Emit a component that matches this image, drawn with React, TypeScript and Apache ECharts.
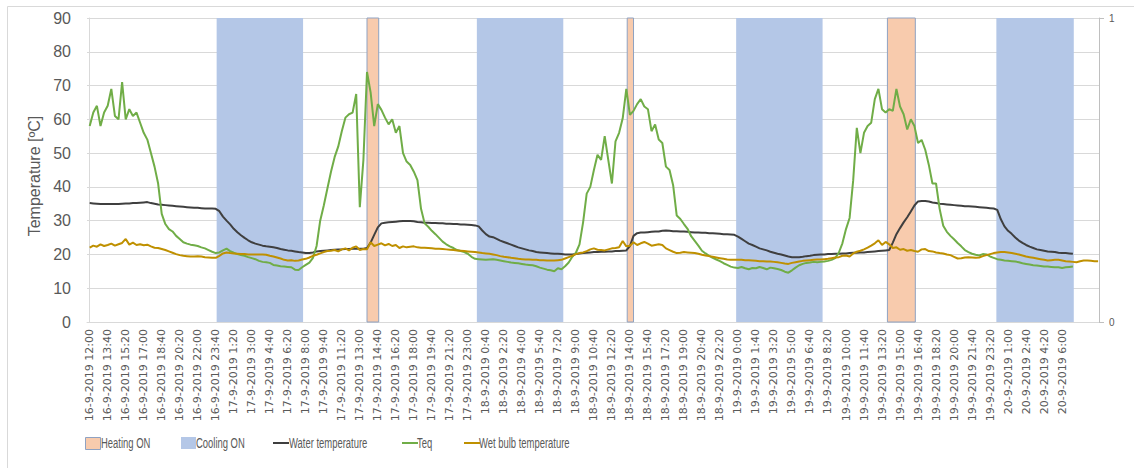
import React, { useEffect, useRef } from "react";
import * as echarts from "echarts";

// Samples every 20 minutes, starting 16-9-2019 12:00 (t = 0 min)
const STEP_MIN = 20;

const waterTemperature = [
  35.2, 35.1, 35.0, 34.9, 34.9, 34.9, 34.9, 34.9, 34.9, 35.0,
  35.1, 35.1, 35.2, 35.2, 35.3, 35.4, 35.5, 35.2, 35.0, 34.8,
  34.7, 34.6, 34.5, 34.4, 34.3, 34.2, 34.1, 34.0, 33.9, 33.8,
  33.8, 33.7, 33.6, 33.6, 33.6, 33.5, 32.8, 31.2, 30.0, 28.9,
  27.6, 26.6, 25.7, 24.9, 24.2, 23.6, 23.2, 22.9, 22.6, 22.4,
  22.3, 22.1, 21.9, 21.6, 21.4, 21.2, 21.1, 20.9, 20.7, 20.6,
  20.4, 20.4, 20.6, 20.9, 21.0, 21.1, 21.2, 21.3, 21.4, 21.5,
  21.5, 21.6, 21.6, 21.7, 21.7, 21.7, 21.7, 21.9, 23.5, 25.8,
  28.0, 29.2, 29.4, 29.5, 29.6, 29.7, 29.8, 29.9, 29.9, 29.9,
  29.8, 29.6, 29.5, 29.4, 29.4, 29.3, 29.3, 29.2, 29.2, 29.1,
  29.1, 29.0, 29.0, 28.9, 28.9, 28.8, 28.7, 28.6, 28.3, 27.1,
  26.0, 25.3, 25.1, 24.6, 24.1, 23.7, 23.3, 22.9, 22.5, 22.1,
  21.8, 21.5, 21.2, 21.0, 20.7, 20.6, 20.5, 20.4, 20.3, 20.2,
  20.2, 20.1, 20.0, 20.0, 20.0, 20.1, 20.3, 20.4, 20.5, 20.6,
  20.7, 20.7, 20.8, 20.8, 20.9, 20.9, 21.0, 21.0, 21.1, 21.2,
  22.5, 25.5, 26.3, 26.5, 26.5, 26.6, 26.7, 26.8, 26.8, 27.0,
  27.1, 27.0, 26.9, 26.9, 26.8, 26.8, 26.7, 26.6, 26.5, 26.5,
  26.4, 26.4, 26.3, 26.3, 26.2, 26.1, 26.0, 26.0, 25.9, 25.8,
  25.3, 24.6, 23.9, 23.2, 22.8, 22.3, 21.8, 21.5, 21.2, 20.8,
  20.5, 20.2, 20.0, 19.7, 19.4, 19.2, 19.2, 19.2, 19.3, 19.5,
  19.6, 19.8, 19.9, 20.0, 20.0, 20.1, 20.1, 20.2, 20.2, 20.3,
  20.3, 20.4, 20.5, 20.5, 20.6, 20.6, 20.7, 20.8, 20.9, 21.0,
  21.1, 21.2, 21.3, 23.5, 26.0, 27.8, 29.5, 31.0, 32.7, 34.5,
  35.7, 35.8, 35.8, 35.7, 35.4, 35.2, 35.0, 34.9, 34.8, 34.7,
  34.6, 34.5, 34.4, 34.3, 34.3, 34.2, 34.1, 34.0, 33.9, 33.8,
  33.7, 33.6, 33.2, 30.4, 28.3, 27.0, 26.1, 25.0, 24.1, 23.4,
  22.8, 22.3, 21.9, 21.5, 21.3, 21.1, 20.9, 20.8, 20.7, 20.5,
  20.4, 20.4, 20.3, 20.2,
];

const teq = [
  58, 62, 64, 58, 62, 64, 69, 61, 60, 71,
  60, 63, 61, 62, 59, 56, 54, 50, 46, 41,
  32, 29, 27.5, 26.8, 25.5, 24.6, 23.6, 23.2, 22.9, 22.7,
  22.5, 22.1, 21.8, 21.3, 20.8, 20.4, 20.6, 21.2, 21.7, 21.0,
  20.5, 20.1, 19.8, 19.6, 19.2, 18.9, 18.6, 18.1, 17.8, 17.7,
  17.5, 16.9, 16.7, 16.5, 16.4, 16.3, 16.2, 15.5, 15.4, 16.2,
  16.9, 17.6, 19.0, 22.5, 30.0, 34.5, 39.5, 44.5, 48.8, 51.9,
  56.5, 60.5, 61.5, 62.0, 67.5, 34.0, 48.0, 74.0, 68.0, 58.0,
  64.5, 62.8, 60.5, 58.5, 60.0, 56.0, 58.0, 50.0, 47.5, 46.5,
  44.5, 42.0, 33.5, 29.2, 28.2, 27.0, 26.0, 24.9, 23.8, 23.0,
  22.4, 21.9, 21.3, 21.0, 20.7, 20.2, 19.3, 18.7, 18.6, 18.5,
  18.4, 18.5, 18.6, 18.4, 18.2, 18.0, 17.8, 17.6, 17.5, 17.4,
  17.2, 17.0, 16.9, 16.8, 16.5, 16.1, 15.8, 15.5, 15.3, 15.0,
  15.9, 15.6, 16.5, 17.6, 19.3, 20.5, 23.0, 29.5, 38.0, 40.0,
  45.0, 49.5, 48.0, 55.0, 47.9, 41.0, 53.5, 56.0, 60.3, 69.0,
  61.3, 62.5, 64.5, 66.0, 63.8, 63.0, 56.5, 58.5, 54.0, 53.0,
  46.0, 45.0, 40.5, 31.5, 30.5, 29.0, 27.6, 25.4, 24.0, 22.6,
  21.1, 20.3, 19.6, 19.0, 18.5, 18.0, 17.4, 16.9, 16.4, 16.1,
  16.0, 16.3, 15.9, 15.6, 16.0, 15.9, 16.3, 16.0, 15.6, 16.1,
  15.9, 15.7, 15.4, 14.9, 14.6, 15.3, 16.1, 16.8, 17.2, 17.5,
  17.6, 17.8, 17.7, 17.8, 17.9, 18.1, 18.4, 18.9, 20.5, 23.3,
  27.5, 30.8, 42.0, 57.5, 50.0, 56.0, 58.0, 59.0, 66.0, 69.0,
  63.0, 62.0, 63.0, 62.5, 69.0, 63.8, 61.5, 57.0, 60.0, 58.0,
  53.0, 53.9, 51.0, 46.5, 41.0, 41.0, 33.5, 28.5, 26.7, 25.5,
  24.5, 23.4, 22.4, 21.3, 20.7, 20.2, 19.9, 19.7, 20.1, 20.0,
  19.4, 19.0, 18.6, 18.4, 18.2, 18.1, 18.0, 17.9, 17.7, 17.4,
  17.2, 17.0, 16.8, 16.7, 16.6, 16.4, 16.4, 16.3, 16.2, 16.2,
  16.0, 16.2, 16.3, 16.4,
];

const wetBulbTemperature = [
  22.0, 22.6, 22.3, 23.0, 22.5, 22.8, 23.2, 22.6, 23.0, 23.4,
  24.6, 22.9, 23.5, 22.8, 23.0, 22.7, 22.9, 22.4, 22.0, 21.9,
  21.6, 21.3, 20.9, 20.5, 20.1, 19.8, 19.6, 19.5, 19.4, 19.4,
  19.5, 19.4, 19.2, 19.1, 19.0, 19.0, 19.6, 20.3, 20.6, 20.4,
  20.3, 20.2, 20.1, 20.1, 20.0, 20.0, 20.0, 20.0, 20.0, 19.9,
  19.6, 19.4, 19.1, 18.8, 18.4, 18.2, 18.3, 18.1, 18.2, 18.5,
  18.7, 19.1, 19.6, 19.9, 20.3, 20.7, 21.0, 21.1, 21.3, 20.9,
  21.5, 21.8, 21.2, 22.0, 22.4, 21.3, 21.6, 21.5, 23.6, 22.5,
  22.9, 23.3, 22.7, 23.1, 22.5, 22.8, 21.9, 22.4, 22.1, 22.3,
  22.4, 22.1, 22.0, 22.0, 21.9, 21.8, 21.7, 21.7, 21.6, 21.5,
  21.4, 21.3, 21.2, 21.1, 21.0, 20.9, 20.8, 20.7, 20.6, 20.4,
  20.3, 20.2, 20.0, 19.8, 19.5, 19.3, 19.2, 19.0, 18.9, 18.7,
  18.6, 18.5, 18.5, 18.4, 18.4, 18.3, 18.3, 18.2, 18.2, 18.2,
  18.3, 18.4, 18.8, 19.2, 19.6, 20.1, 20.4, 20.6, 21.0, 21.5,
  21.8, 21.4, 21.3, 21.2, 21.5, 21.8, 21.9, 22.1, 24.0, 22.4,
  22.6, 23.6, 22.8, 23.3, 23.7, 23.2, 22.6, 22.8, 23.0, 22.8,
  21.8, 21.3, 20.8, 20.4, 20.5, 20.7, 20.6, 20.5, 20.4, 20.2,
  19.9, 19.7, 19.5, 19.3, 19.1, 18.9, 18.7, 18.5, 18.4, 18.4,
  18.4, 18.4, 18.3, 18.3, 18.2, 18.1, 18.0, 18.0, 17.9, 17.9,
  17.8, 17.7, 17.5, 17.3, 17.2, 17.5, 17.7, 17.9, 18.1, 18.2,
  18.3, 18.4, 18.5, 18.5, 18.6, 18.7, 18.9, 19.1, 19.2, 19.6,
  19.7, 19.4, 20.3, 20.8, 21.1, 21.5, 22.0, 22.6, 23.3, 24.2,
  22.8, 23.7, 23.0, 21.9, 22.1, 21.4, 21.6, 21.1, 21.3, 21.0,
  20.8, 21.5, 21.6, 21.0, 20.9, 20.6, 20.4, 20.3, 20.0, 19.8,
  19.3, 18.8, 18.9, 19.1, 19.2, 19.1, 19.0, 19.1, 19.5, 19.8,
  20.1, 20.4, 20.6, 20.7, 20.7, 20.6, 20.4, 20.2, 20.0, 19.7,
  19.4, 19.2, 19.0, 18.8, 18.6, 18.4, 18.2, 18.3, 18.4, 18.4,
  18.2, 18.0, 17.9, 17.8, 17.7, 18.0, 18.2, 18.2, 18.1, 18.0,
  18.0,
];

// Heating / cooling periods, minutes after 16-9-2019 12:00
const heatingStart = [1540, 2985, 4430];
const heatingEnd = [1605, 3020, 4585];
const coolingStart = [705, 2150, 3590, 5035];
const coolingEnd = [1185, 2630, 4070, 5465];

// Category tick labels, one every 100 minutes
const tickLabels = [
  "16-9-2019 12:00", "16-9-2019 13:40", "16-9-2019 15:20", "16-9-2019 17:00",
  "16-9-2019 18:40", "16-9-2019 20:20", "16-9-2019 22:00", "16-9-2019 23:40",
  "17-9-2019 1:20", "17-9-2019 3:00", "17-9-2019 4:40", "17-9-2019 6:20",
  "17-9-2019 8:00", "17-9-2019 9:40", "17-9-2019 11:20", "17-9-2019 13:00",
  "17-9-2019 14:40", "17-9-2019 16:20", "17-9-2019 18:00", "17-9-2019 19:40",
  "17-9-2019 21:20", "17-9-2019 23:00", "18-9-2019 0:40", "18-9-2019 2:20",
  "18-9-2019 4:00", "18-9-2019 5:40", "18-9-2019 7:20", "18-9-2019 9:00",
  "18-9-2019 10:40", "18-9-2019 12:20", "18-9-2019 14:00", "18-9-2019 15:40",
  "18-9-2019 17:20", "18-9-2019 19:00", "18-9-2019 20:40", "18-9-2019 22:20",
  "19-9-2019 0:00", "19-9-2019 1:40", "19-9-2019 3:20", "19-9-2019 5:00",
  "19-9-2019 6:40", "19-9-2019 8:20", "19-9-2019 10:00", "19-9-2019 11:40",
  "19-9-2019 13:20", "19-9-2019 15:00", "19-9-2019 16:40", "19-9-2019 18:20",
  "19-9-2019 20:00", "19-9-2019 21:40", "19-9-2019 23:20", "20-9-2019 1:00",
  "20-9-2019 2:40", "20-9-2019 4:20", "20-9-2019 6:00",
];
const TICK_STEP = 100;

const HEAT_COLOR = "#F8CBAD";
const HEAT_BORDER = "#8FA2C2";
const COOL_COLOR = "#B4C7E7";
const WATER_COLOR = "#3F3F3F";
const TEQ_COLOR = "#70AD47";
const WET_COLOR = "#BF9000";
const TEXT_COLOR = "#595959";
const SANS = "'Liberation Sans', Arial, sans-serif";

// Legend layout: icon left edge, text left edge
const legendLayout = [
  { name: "Heating ON", icon: 85, text: 101 },
  { name: "Cooling ON", icon: 181, text: 196 },
  { name: "Water temperature", icon: 273, text: 289 },
  { name: "Teq", icon: 402, text: 417 },
  { name: "Wet bulb temperature", icon: 464, text: 479 },
];
const LEGEND_Y = 443;

function bandSeries(name: string, starts: number[], ends: number[], fill: string, stroke: string | null) {
  return {
    name,
    type: "custom",
    xAxisIndex: 0,
    yAxisIndex: 1,
    z: 1,
    itemStyle: { color: fill, borderColor: stroke || fill, borderWidth: stroke ? 1 : 0 },
    encode: { x: [0, 1], y: 2 },
    data: starts.map((s, i) => [s, ends[i], 1]),
    renderItem: (params: any, api: any) => {
      const p0 = api.coord([api.value(0), 1]);
      const p1 = api.coord([api.value(1), 0]);
      return {
        type: "rect",
        shape: { x: p0[0], y: p0[1], width: p1[0] - p0[0], height: p1[1] - p0[1] },
        style: stroke ? { fill, stroke, lineWidth: 1 } : { fill },
      };
    },
  };
}

function lineSeries(name: string, values: number[], color: string) {
  return {
    name,
    type: "line",
    yAxisIndex: 0,
    z: 3,
    symbol: "none",
    showSymbol: false,
    lineStyle: { color, width: 2 },
    itemStyle: { color },
    data: values.map((v, i) => [i * STEP_MIN, v]),
  };
}

const LINE_ICON = "path://M0,0 L16,0 L16,2 L0,2 Z";

function legendItem(name: string, left: number, icon: string, isLine: boolean, itemStyle?: any) {
  return {
    left,
    top: isLine ? LEGEND_Y - 1 : LEGEND_Y - 6,
    padding: 0,
    itemWidth: isLine ? 16 : 15,
    itemHeight: isLine ? 2 : 12,
    icon,
    data: [itemStyle ? { name, itemStyle } : { name }],
    formatter: () => "",
    textStyle: { fontSize: 1 },
    selectedMode: false,
  };
}

export default function App() {
  const ref = useRef<HTMLDivElement>(null);

  useEffect(() => {
    if (!ref.current) return;
    const chart = echarts.init(ref.current, null, { renderer: "svg" });
    const tickValues = tickLabels.map((_, i) => i * TICK_STEP);

    chart.setOption({
      animation: false,
      backgroundColor: "#ffffff",
      grid: { left: 87, right: 35, top: 18, bottom: 146, containLabel: false },
      graphic: [
        {
          type: "rect",
          x: 7.5,
          y: 6.5,
          shape: { x: 0, y: 0, width: 1200, height: 500 },
          style: { fill: "none", stroke: "#D9D9D9", lineWidth: 1 },
          silent: true,
        },
        ...legendLayout.map((l) => ({
          type: "text",
          x: l.text,
          y: LEGEND_Y,
          scaleX: 0.63,
          silent: true,
          style: {
            text: l.name,
            fill: TEXT_COLOR,
            font: `15px ${SANS}`,
            verticalAlign: "middle",
            align: "left",
          },
        })),
      ],
      legend: [
        legendItem("Heating ON", legendLayout[0].icon, "rect", false, { color: HEAT_COLOR, borderColor: HEAT_BORDER, borderWidth: 1 }),
        legendItem("Cooling ON", legendLayout[1].icon, "rect", false, { color: COOL_COLOR }),
        legendItem("Water temperature", legendLayout[2].icon, LINE_ICON, true),
        legendItem("Teq", legendLayout[3].icon, LINE_ICON, true),
        legendItem("Wet bulb temperature", legendLayout[4].icon, LINE_ICON, true),
      ],
      xAxis: {
        type: "value",
        min: -15,
        max: 5605,
        splitLine: { show: false },
        axisLine: { show: true, lineStyle: { color: "#D9D9D9", width: 1 } },
        axisTick: { show: false },
        axisLabel: {
          customValues: tickValues,
          rotate: 90,
          margin: 7,
          color: TEXT_COLOR,
          fontSize: 11,
          fontFamily: "'DejaVu Sans', sans-serif",
          formatter: (v: number) => tickLabels[Math.round(v / TICK_STEP)] ?? "",
        },
      },
      yAxis: [
        {
          type: "value",
          min: 0,
          max: 90,
          interval: 10,
          name: "Temperature [ºC]",
          nameLocation: "middle",
          nameGap: 45,
          nameTextStyle: { color: TEXT_COLOR, fontSize: 16, fontFamily: SANS, padding: [0, 12, 0, 0] },
          axisLine: { show: true, lineStyle: { color: "#D9D9D9" } },
          axisTick: { show: false },
          splitLine: { show: true, lineStyle: { color: "#D9D9D9", width: 1 } },
          axisLabel: { color: TEXT_COLOR, fontSize: 16, margin: 16, fontFamily: SANS },
        },
        {
          type: "value",
          min: 0,
          max: 1,
          interval: 1,
          position: "right",
          axisLine: { show: true, lineStyle: { color: "#BFBFBF" } },
          axisTick: { show: true, length: 5, lineStyle: { color: "#BFBFBF" } },
          splitLine: { show: false },
          axisLabel: { color: TEXT_COLOR, fontSize: 10, margin: 10, fontFamily: SANS },
        },
      ],
      series: [
        bandSeries("Heating ON", heatingStart, heatingEnd, HEAT_COLOR, HEAT_BORDER),
        bandSeries("Cooling ON", coolingStart, coolingEnd, COOL_COLOR, null),
        lineSeries("Water temperature", waterTemperature, WATER_COLOR),
        lineSeries("Teq", teq, TEQ_COLOR),
        lineSeries("Wet bulb temperature", wetBulbTemperature, WET_COLOR),
      ],
    });

    return () => chart.dispose();
  }, []);

  return (
    <div
      ref={ref}
      style={{ position: "absolute", left: 0, top: 0, width: 1134, height: 468 }}
    />
  );
}
